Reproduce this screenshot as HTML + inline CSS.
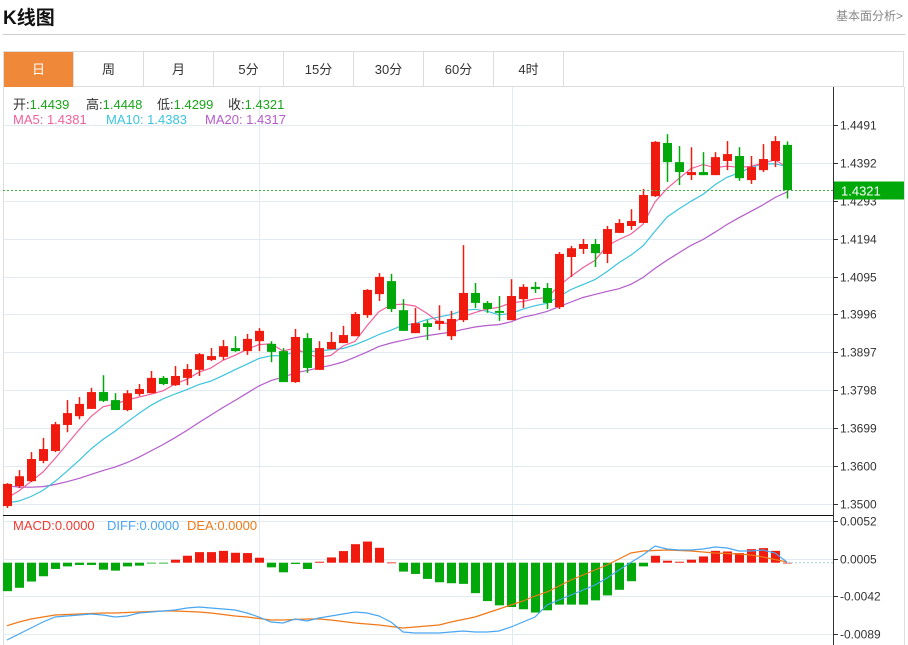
<!DOCTYPE html>
<html><head><meta charset="utf-8"><style>
body{margin:0;width:908px;height:645px;background:#fff;font-family:"Liberation Sans","Noto Sans CJK SC",sans-serif;overflow:hidden;position:relative}
.t{position:absolute}
.tab{position:absolute;top:52px;height:35px;width:70px;line-height:35px;text-align:center;font-size:13px;color:#333;border-right:1px solid #ddd;box-sizing:border-box}
.lg{position:absolute;font-size:13px;white-space:nowrap}
</style></head><body>
<div class="t" style="left:3px;top:3px;font-size:19px;font-weight:bold;color:#111">K线图</div>
<div class="t" style="left:836px;top:7px;font-size:12px;color:#888">基本面分析&gt;</div>
<div class="t" style="left:3px;top:34px;width:902px;height:1px;background:#ccc"></div>
<div class="t" style="left:3px;top:51px;width:901px;height:36px;border:1px solid #ddd;box-sizing:border-box"></div>
<div class="tab" style="left:4px;background:#f0883a;color:#fff">日</div>
<div class="tab" style="left:74px">周</div>
<div class="tab" style="left:144px">月</div>
<div class="tab" style="left:214px">5分</div>
<div class="tab" style="left:284px">15分</div>
<div class="tab" style="left:354px">30分</div>
<div class="tab" style="left:424px">60分</div>
<div class="tab" style="left:494px">4时</div>
<svg id="c" class="t" style="left:0;top:0" width="908" height="645"></svg>
<script>
const opens=[1.3495,1.3547,1.3560,1.3613,1.3639,1.3707,1.3730,1.3749,1.3793,1.3772,1.3746,1.3788,1.3790,1.3830,1.3811,1.3830,1.3851,1.3877,1.3885,1.3908,1.3900,1.3926,1.3919,1.3900,1.3819,1.3934,1.3851,1.3905,1.3921,1.3939,1.3994,1.4049,1.4083,1.4007,1.3947,1.3973,1.3971,1.3939,1.3981,1.4052,1.4026,1.4005,1.3981,1.4036,1.4068,1.4065,1.4015,1.4146,1.4167,1.4180,1.4154,1.4209,1.4227,1.4235,1.4305,1.4444,1.4394,1.4360,1.4368,1.4360,1.4397,1.4410,1.4347,1.4373,1.4397,1.4439];
const highs=[1.3555,1.3589,1.3636,1.3673,1.3715,1.3772,1.3780,1.3804,1.3837,1.3790,1.3798,1.3814,1.3848,1.3835,1.3861,1.3866,1.3895,1.3908,1.3929,1.3939,1.3945,1.3960,1.3926,1.3908,1.3958,1.3947,1.3926,1.3950,1.3966,1.4002,1.4062,1.4104,1.4102,1.4036,1.4013,1.3981,1.4020,1.4005,1.4177,1.4078,1.4031,1.4044,1.4088,1.4075,1.4081,1.4078,1.4159,1.4175,1.4193,1.4193,1.4227,1.4245,1.4271,1.4324,1.4449,1.4467,1.4436,1.4433,1.4420,1.4420,1.4449,1.4433,1.4410,1.4441,1.4462,1.4448];
const lows=[1.3490,1.3542,1.3558,1.3607,1.3636,1.3688,1.3722,1.3749,1.3767,1.3746,1.3743,1.3783,1.3790,1.3811,1.3809,1.3811,1.3835,1.3874,1.3877,1.3898,1.3890,1.3900,1.3871,1.3819,1.3817,1.3843,1.3851,1.3905,1.3921,1.3939,1.3987,1.4031,1.4002,1.3953,1.3947,1.3929,1.3955,1.3929,1.3976,1.4013,1.4000,1.3979,1.3981,1.4013,1.4052,1.4010,1.4010,1.4094,1.4154,1.4120,1.4130,1.4209,1.4217,1.4235,1.4303,1.4342,1.4334,1.4347,1.4360,1.4360,1.4373,1.4345,1.4337,1.4368,1.4381,1.4299];
const closes=[1.3553,1.3573,1.3618,1.3644,1.3709,1.3738,1.3762,1.3793,1.3770,1.3746,1.3790,1.3801,1.3830,1.3814,1.3835,1.3853,1.3892,1.3887,1.3913,1.3900,1.3932,1.3953,1.3898,1.3819,1.3937,1.3856,1.3908,1.3924,1.3942,1.3997,1.4060,1.4094,1.4010,1.3953,1.3973,1.3963,1.3979,1.3984,1.4052,1.4026,1.4010,1.4000,1.4044,1.4068,1.4062,1.4026,1.4154,1.4169,1.4180,1.4156,1.4219,1.4235,1.4240,1.4308,1.4447,1.4394,1.4368,1.4368,1.4360,1.4407,1.4415,1.4352,1.4381,1.4402,1.4449,1.4321];
const priorCloses=[1.3640,1.3625,1.3610,1.3600,1.3595,1.3590,1.3580,1.3575,1.3560,1.3555,1.3520,1.3500,1.3485,1.3475,1.3470,1.3480,1.3495,1.3520,1.3532];
const priceTicks=[1.4491,1.4392,1.4293,1.4194,1.4095,1.3996,1.3897,1.3798,1.3699,1.3600,1.3500];
const macdHist=[-0.00355,-0.00313,-0.00235,-0.00169,-0.00078,-0.00046,-0.00028,-0.00028,-0.00087,-0.00099,-0.00046,-0.00037,-0.00005,-0.00005,0.00037,0.00087,0.00132,0.00132,0.00148,0.00124,0.00120,0.00062,-0.00058,-0.00120,-0.00016,-0.00078,0.00012,0.00066,0.00145,0.00231,0.00264,0.00186,0.00003,-0.00111,-0.00140,-0.00202,-0.00244,-0.00256,-0.00264,-0.00380,-0.00479,-0.00532,-0.00553,-0.00581,-0.00622,-0.00594,-0.00523,-0.00523,-0.00523,-0.00470,-0.00408,-0.00338,-0.00231,-0.00046,0.00087,0.00025,0.00012,0.00037,0.00078,0.00148,0.00140,0.00120,0.00169,0.00182,0.00148,0.00000];
const diffVals=[-0.00965,-0.00890,-0.00815,-0.00740,-0.00678,-0.00665,-0.00653,-0.00640,-0.00653,-0.00678,-0.00665,-0.00628,-0.00615,-0.00603,-0.00590,-0.00565,-0.00553,-0.00565,-0.00578,-0.00590,-0.00628,-0.00678,-0.00740,-0.00753,-0.00703,-0.00728,-0.00690,-0.00665,-0.00640,-0.00615,-0.00628,-0.00665,-0.00740,-0.00865,-0.00877,-0.00877,-0.00877,-0.00865,-0.00852,-0.00865,-0.00865,-0.00852,-0.00802,-0.00740,-0.00678,-0.00528,-0.00466,-0.00403,-0.00341,-0.00278,-0.00191,-0.00091,0.00004,0.00096,0.00208,0.00171,0.00158,0.00158,0.00171,0.00196,0.00183,0.00146,0.00146,0.00158,0.00121,0.00009];
const deaVals=[-0.00786,-0.00740,-0.00703,-0.00678,-0.00653,-0.00646,-0.00640,-0.00634,-0.00628,-0.00628,-0.00622,-0.00615,-0.00609,-0.00603,-0.00603,-0.00609,-0.00615,-0.00628,-0.00646,-0.00665,-0.00678,-0.00696,-0.00715,-0.00715,-0.00709,-0.00703,-0.00703,-0.00715,-0.00734,-0.00753,-0.00765,-0.00778,-0.00796,-0.00815,-0.00802,-0.00790,-0.00778,-0.00740,-0.00709,-0.00678,-0.00628,-0.00578,-0.00528,-0.00478,-0.00416,-0.00366,-0.00291,-0.00216,-0.00154,-0.00091,-0.00029,0.00046,0.00121,0.00146,0.00152,0.00158,0.00152,0.00146,0.00133,0.00121,0.00115,0.00108,0.00096,0.00071,0.00040,0.00009];
const macdTicks=[0.0052,0.0005,-0.0042,-0.0089];

const svg=document.getElementById('c');const NS='http://www.w3.org/2000/svg';
function mk(tag,attrs,parent){const e=document.createElementNS(NS,tag);for(const k in attrs)e.setAttribute(k,attrs[k]);(parent||svg).appendChild(e);return e;}
const xOf=i=>7+12*i;
const yP=p=>125+(1.4491-p)*3826;
const yM=v=>562.7-v*8014;
const AX=833;
let e;
e=mk('line',{x1:3.5,y1:87,x2:3.5,y2:645,stroke:'#ddd'});

e=mk('line',{x1:904.5,y1:87,x2:904.5,y2:645,stroke:'#ddd'});

[259.5,512.5].forEach(x=>{e=mk('line',{x1:x,y1:87,x2:x,y2:645,stroke:'#e2eaf2'});
});
priceTicks.forEach(p=>{const y=Math.round(yP(p))+0.5;
e=mk('line',{x1:3,y1:y,x2:AX,y2:y,stroke:'#e2eaf2'});

e=mk('line',{x1:AX,y1:y,x2:AX+5,y2:y,stroke:'#333'});

e=mk('text',{x:AX+7,y:y+4,'font-size':12,fill:'#333'});e.textContent=p.toFixed(4);
});
macdTicks.forEach(v=>{const y=Math.round(yM(v))+0.5;
e=mk('line',{x1:3,y1:y,x2:AX,y2:y,stroke:'#e2eaf2'});

e=mk('line',{x1:AX,y1:y,x2:AX+5,y2:y,stroke:'#333'});

e=mk('text',{x:AX+7,y:y+4,'font-size':12,fill:'#333'});e.textContent=v.toFixed(4);
});
e=mk('line',{x1:AX+0.5,y1:87,x2:AX+0.5,y2:645,stroke:'#333'});

e=mk('line',{x1:3,y1:515.5,x2:AX,y2:515.5,stroke:'#111'});

const all=priorCloses.concat(closes);
function ma(n){return closes.map((c,i)=>{const j=i+priorCloses.length;let s=0,k=0;for(let m=Math.max(0,j-n+1);m<=j;m++){s+=all[m];k++;}return s/k;});}
[[20,'#b45ccc','ma20-line'],[10,'#3cc4de','ma10-line'],[5,'#f0609a','ma5-line']].forEach(([n,col,name])=>{
const pts=ma(n).map((v,i)=>xOf(i)+','+yP(v).toFixed(1)).join(' ');
e=mk('polyline',{points:pts,fill:'none',stroke:col,'stroke-width':1.2});
});
closes.forEach((c,i)=>{const o=opens[i],up=c>=o,col=up?'#f01a0e':'#00a80a',x=xOf(i);
const g=mk('g',{});

mk('line',{x1:x+0.5,y1:yP(highs[i]),x2:x+0.5,y2:yP(lows[i]),stroke:col,'stroke-width':1.5},g);
const t=yP(Math.max(o,c)),b=yP(Math.min(o,c));
mk('rect',{x:x-4,y:t,width:9,height:Math.max(1.5,b-t),fill:col},g);});
const last=closes[closes.length-1],ly=Math.round(yP(last))+0.5;
e=mk('line',{x1:3,y1:ly,x2:AX,y2:ly,stroke:'#3cb43c','stroke-dasharray':'2,2'});

e=mk('rect',{x:AX+1,y:ly-9,width:70,height:18,fill:'#00a80a'});

e=mk('text',{x:AX+8,y:ly+5,'font-size':13,fill:'#fff'});e.textContent=last.toFixed(4);

const z=yM(0);
macdHist.forEach((v,i)=>{const y=yM(v),x=xOf(i);
e=mk('rect',{x:x-4,y:Math.min(y,z),width:9,height:Math.max(0.8,Math.abs(y-z)),fill:v>=0?'#f01a0e':'#00a80a'});
});
e=mk('line',{x1:xOf(macdHist.length-1),y1:z,x2:AX,y2:z,stroke:'#9cd0e8','stroke-dasharray':'2,2'});

e=mk('polyline',{points:deaVals.map((v,i)=>xOf(i)+','+yM(v).toFixed(1)).join(' '),fill:'none',stroke:'#f07818','stroke-width':1.2});

e=mk('polyline',{points:diffVals.map((v,i)=>xOf(i)+','+yM(v).toFixed(1)).join(' '),fill:'none',stroke:'#4aa6f0','stroke-width':1.2});

</script>
<div class="lg" style="left:13px;top:94px;color:#333">开:<span style="color:#1aa51a">1.4439</span></div>
<div class="lg" style="left:86px;top:94px;color:#333">高:<span style="color:#1aa51a">1.4448</span></div>
<div class="lg" style="left:157px;top:94px;color:#333">低:<span style="color:#1aa51a">1.4299</span></div>
<div class="lg" style="left:228px;top:94px;color:#333">收:<span style="color:#1aa51a">1.4321</span></div>
<div class="lg" style="left:13px;top:112px;color:#f0609a">MA5: 1.4381</div>
<div class="lg" style="left:106px;top:112px;color:#3cc4de">MA10: 1.4383</div>
<div class="lg" style="left:205px;top:112px;color:#b45ccc">MA20: 1.4317</div>
<div class="lg" style="left:13px;top:518px;color:#f03a30">MACD:0.0000</div>
<div class="lg" style="left:107px;top:518px;color:#4aa6f0">DIFF:0.0000</div>
<div class="lg" style="left:187px;top:518px;color:#f07818">DEA:0.0000</div>
</body></html>
